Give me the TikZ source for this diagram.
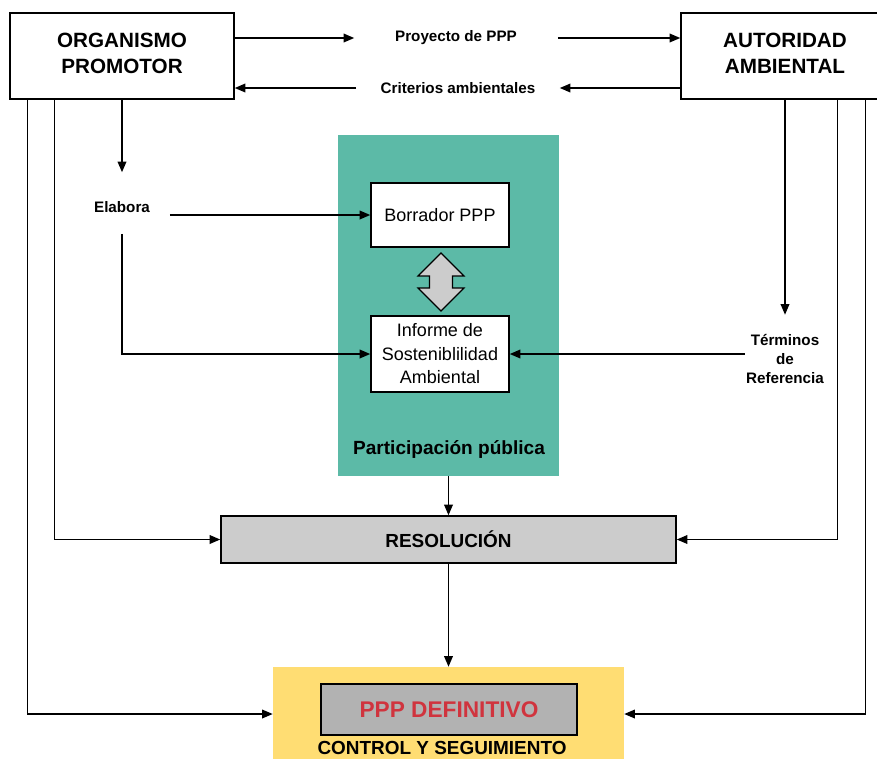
\documentclass[tikz,border=0pt]{standalone}
\usepackage{fontspec}
\setmainfont{Liberation Sans}
\usepackage{xcolor}
\usepackage{tikz}
\usetikzlibrary{arrows.meta}

\definecolor{verdepp}{RGB}{92,186,167}
\definecolor{amarillo}{RGB}{255,221,115}
\definecolor{rojopp}{RGB}{208,52,62}

\begin{document}
\begin{tikzpicture}[
			x=0.75pt, y=-0.75pt,
			actor/.style={rectangle, draw, line width=1.1pt, fill=white, minimum width=168pt, minimum height=64.5pt, align=center, text depth=4pt, font=\fontsize{15.5}{19.5}\selectfont\bfseries},
			doc/.style={rectangle, draw, line width=1.1pt, fill=white, minimum width=103.5pt, align=center, inner sep=0pt, font=\fontsize{13.5}{17.6}\selectfont},
			etiqueta/.style={inner sep=0pt, align=center, font=\fontsize{11.4}{13.9}\selectfont\bfseries},
			arrow/.style={draw, black, line width=1.15pt, -{Triangle[length=8pt,width=6.5pt]}}
			]
			\clip (0,0) rectangle (877,758);
			
			% nodos
			\node (org) [actor] at (122,56) {ORGANISMO\\PROMOTOR};
			\node (aut) [actor, minimum width=156pt] at (785,56) {AUTORIDAD\\AMBIENTAL};
			\node (proy) [etiqueta, minimum width=152.25pt] at (456,38) {Proyecto de PPP};
			\node (crit) [etiqueta, minimum width=152.25pt] at (458,88) {Criterios ambientales};
			
			\node (part) [rectangle, fill=verdepp, minimum width=165.75pt, minimum height=255.75pt] at (448.5,305.5) {};
			\node (partlbl) [etiqueta, font=\fontsize{14.3}{17}\selectfont\bfseries] at (449,449) {Participación pública};
			\node (borr) [doc, minimum height=48pt] at (440,215) {Borrador PPP};
			\node (inf) [doc, minimum height=57pt] at (440,354) {Informe de\\Sosteniblilidad\\Ambiental};
			\filldraw [fill=black!20, draw=black, line width=0.9pt]
				(441,253) -- (464,276) -- (452.5,276) -- (452.5,288) -- (464,288) -- (441,311)
				-- (418,288) -- (429.5,288) -- (429.5,276) -- (418,276) -- cycle;
			
			\node (elab) [etiqueta, minimum width=71.25pt, minimum height=45.75pt, text height=14pt] at (122,203) {Elabora};
			\node (term) [etiqueta, minimum width=60pt, minimum height=66pt] at (785,359) {Términos\\de\\Referencia};
			
			\node (res) [rectangle, draw, line width=1.1pt, fill=black!20, minimum width=341.25pt, minimum height=35.25pt, font=\fontsize{14.2}{17}\selectfont\bfseries] at (448.5,539.5) {RESOLUCIÓN};
			\node (ctrl) [rectangle, fill=amarillo, minimum width=263.25pt, minimum height=70.5pt] at (448.5,714) {};
			\node (defin) [rectangle, draw, line width=1.1pt, fill=black!30, minimum width=192pt, minimum height=38.25pt, text=rojopp, font=\fontsize{17}{20}\selectfont\bfseries] at (449,709.5) {PPP DEFINITIVO};
			\node (ctrllbl) [anchor=base, inner sep=0pt, font=\fontsize{14.2}{17}\selectfont\bfseries] at (442,754) {CONTROL Y SEGUIMIENTO};
			
			% flechas
			\draw [arrow] (org.east |- proy.west) -- (proy.west);
			\draw [arrow] (proy.east) -- (aut.west |- proy.east);
			\draw [arrow] (aut.west |- crit.east) -- (crit.east);
			\draw [arrow] (crit.west) -- (org.east |- crit.west);
			
			\draw [arrow] (org.south) -- (elab.north);
			\draw [arrow] (elab.east |- borr.west) -- (borr.west);
			\draw [arrow] (elab.south) |- (inf.west);
			\draw [arrow] (aut.south) -- (term.north);
			\draw [arrow] (term.west |- inf.east) -- (inf.east);
			
			\draw [arrow] (part.south) -- (res.north);
			\draw [arrow] (res.south) -- (ctrl.north);
			\draw [arrow] ([xshift=33.75pt]org.south west) |- (res.west);
			\draw [arrow] ([xshift=117.75pt]aut.south west) |- (res.east);
			\draw [arrow] ([xshift=13.5pt]org.south west) |- (ctrl.west);
			\draw [arrow] ([xshift=138.75pt]aut.south west) |- (ctrl.east);
			
		\end{tikzpicture}
\end{document}
